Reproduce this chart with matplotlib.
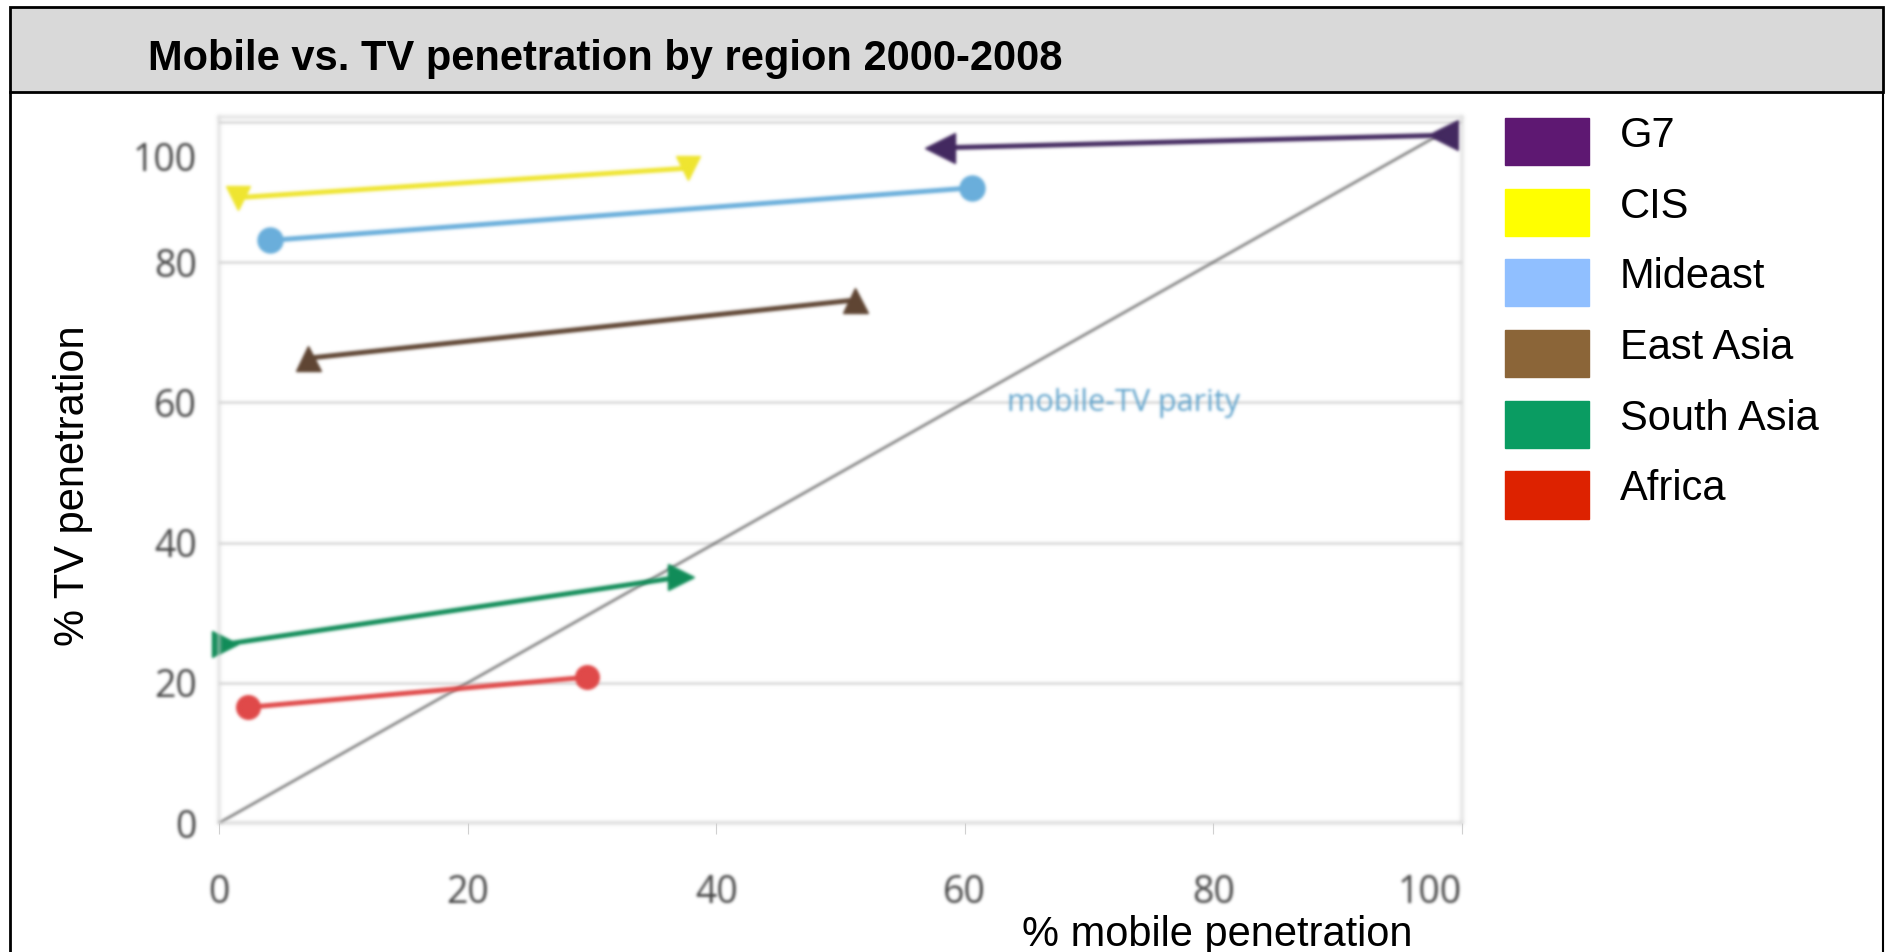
import numpy as np
import matplotlib.pyplot as plt
from matplotlib.patches import Rectangle
from matplotlib.lines import Line2D
from matplotlib.transforms import ScaledTranslation

# Mobile vs TV penetration, one segment per region (2000 -> 2008)
regions = ['G7', 'CIS', 'Mideast', 'East Asia', 'South Asia', 'Africa']
mobile_2000 = [58.0, 1.5, 4.1, 7.2, 0.5, 2.3]
mobile_2008 = [98.5, 37.7, 60.6, 51.2, 37.2, 29.6]
tv_2000 = [96.3, 89.2, 83.1, 66.3, 25.5, 16.5]
tv_2008 = [98.1, 93.4, 90.6, 74.6, 35.1, 20.8]

parity = [0, 98.5]
ticks = [0, 20, 40, 60, 80, 100]

line_colors = ['#42285f', '#efe52f', '#69aedb', '#5e4432', '#108c58', '#e04848']
legend_colors = ['#5e1872', '#ffff00', '#90bfff', '#8b6538', '#0a9c62', '#dd2200']
markers = ['<', 'v', 'o', '^', '>', 'o']
marker_sizes = [21, 17, 18, 18, 19, 17]

W, H = 1885, 952


def fx(px):
    return px / W


def fy(py):
    return 1 - py / H


def soften(img, dpi, sigma=1.4):
    # small gaussian blur on premultiplied rgba
    pad = 5
    a = np.pad(img, ((pad, pad), (pad, pad), (0, 0)))
    a[..., :3] *= a[..., 3:4]
    k = np.exp(-0.5 * (np.arange(-pad, pad + 1) / sigma) ** 2)
    k /= k.sum()
    for axis in (0, 1):
        acc = np.zeros_like(a)
        for off, w in zip(range(-pad, pad + 1), k):
            acc += w * np.roll(a, off, axis=axis)
        a = acc
    alpha = a[..., 3:4]
    a[..., :3] = np.where(alpha > 1e-6, a[..., :3] / np.maximum(alpha, 1e-6), 0)
    return np.clip(a, 0, 1), -pad, -pad


fig = plt.figure(figsize=(W / 100, H / 100), dpi=100)
fig.patch.set_facecolor('white')

# header band and outer frame
fig.add_artist(Rectangle((fx(10), fy(92)), fx(1883 - 10), (92 - 7) / H,
                         transform=fig.transFigure, facecolor='#d9d9d9',
                         edgecolor='black', lw=2))
fig.add_artist(Line2D([fx(10), fx(10)], [fy(92), 0], transform=fig.transFigure,
                      color='black', lw=2))
fig.add_artist(Line2D([fx(1883), fx(1883)], [fy(92), 0], transform=fig.transFigure,
                      color='black', lw=1.5))
fig.text(fx(148), fy(70), 'Mobile vs. TV penetration by region 2000-2008',
         fontsize=30, fontweight='bold', family='Liberation Sans', va='baseline')

ax = fig.add_axes([fx(219), fy(823), fx(1462 - 219), (823 - 117) / H])
ax.set_xlim(0, 100)
ax.set_ylim(0, 100.7)
for s in ax.spines.values():
    s.set_color('#d0d0d0')
    s.set_linewidth(1.5)
    s.set_agg_filter(soften)
ax.set_axisbelow(True)
ax.yaxis.grid(True, color='#d6d6d6', lw=1.8)
ax.set_xticks(ticks)
ax.set_yticks(ticks)
ax.tick_params(axis='y', length=0, pad=16, labelsize=27, labelcolor='#454545')
ax.tick_params(axis='x', length=8, color='#d0d0d0', pad=29, labelsize=27,
               labelcolor='#454545')
for lbl in ax.get_xticklabels() + ax.get_yticklabels():
    lbl.set_family('Open Sans')
    lbl.set_agg_filter(soften)
ax.get_xticklabels()[-1].set_ha('right')
# the top y label sits a little below its gridline
top_lbl = ax.yaxis.get_major_ticks()[-1].label1
top_lbl.set_transform(top_lbl.get_transform()
                      + ScaledTranslation(0, -25 / 72, fig.dpi_scale_trans))

ax.plot(parity, parity, color='#707070', lw=1.7)
ax.text(72.8, 59.9, 'mobile-TV parity', color='#62a4cc', fontsize=22,
        family='Open Sans', ha='center', va='center', agg_filter=soften)

for i in range(len(regions)):
    ax.plot([mobile_2000[i], mobile_2008[i]], [tv_2000[i], tv_2008[i]],
            color=line_colors[i], lw=3.5, marker=markers[i],
            ms=marker_sizes[i], clip_on=False)

for ln in ax.lines + ax.get_ygridlines():
    ln.set_agg_filter(soften)

# legend boxes on the right
for i, name in enumerate(regions):
    top = 118 + 70.7 * i
    fig.add_artist(Rectangle((fx(1505), fy(top + 47)), fx(84), 47 / H,
                             transform=fig.transFigure, color=legend_colors[i]))
    fig.text(fx(1620), fy(top + 29), name, fontsize=30,
             family='Liberation Sans', va='baseline')

fig.text(fx(1217), fy(946), '% mobile penetration', fontsize=30,
         family='Liberation Sans', ha='center', va='baseline')
fig.text(fx(73), fy(486), '% TV penetration', fontsize=30, rotation=90,
         family='Liberation Sans', ha='center', va='center')

fig.savefig('out.png', dpi=100)
